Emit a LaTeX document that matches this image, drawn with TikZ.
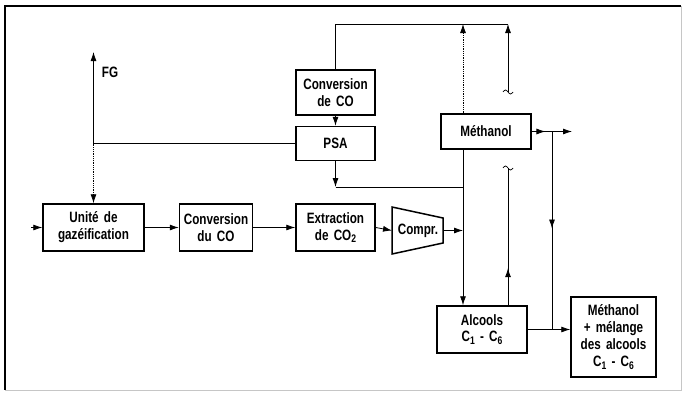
\documentclass[tikz,border=0pt]{standalone}
\usepackage{fontspec}
\setmainfont{Liberation Sans}[FakeStretch=0.78, WordSpace=1.6]
\usetikzlibrary{arrows.meta, positioning, calc, decorations.markings}
\newcommand\lowr[1]{\raisebox{-0.35ex}{\fontsize{11}{11}\selectfont #1}}
\tikzset{
  box/.style   = {draw, line width=1.5pt, align=center, inner sep=0pt,
                  font=\bfseries\fontsize{15}{17}\selectfont},
  lbl/.style   = {inner sep=0pt, font=\bfseries\fontsize{15}{17}\selectfont},
  ln/.style    = {line width=0.8pt},
  fl/.style    = {line width=0.8pt, -{Latex[length=9pt,width=6pt]}},
  midarr/.style = {postaction={decorate}, decoration={markings,
                  mark=at position #1 with {\arrow{Latex[length=9pt,width=6pt]}}}},
  brk/.pic     = {\draw[line width=0.7pt] (-5,0) sin (-2.5,-2) cos (0,0) sin (2.5,2) cos (5,0);},
}

\begin{document}
\begin{tikzpicture}[x=1pt, y=-1pt]
  \useasboundingbox (0,0) rectangle (683,394);
  % frame
  \draw[line width=1.6pt] (681,6) -- (5,6) -- (5,390);
  \draw[gray!45, line width=0.6pt] (681,6) -- (681,390) -- (5,390);

  % main line
  \node[box, minimum width=101pt, minimum height=47pt] (unit) at (93.5,227.5) {Unité de\\gazéification};
  \node[box, minimum width=73pt, minimum height=47pt, right=34pt of unit] (cdu) {Conversion\\du CO};
  \node[box, minimum width=79pt, minimum height=47pt, right=42pt of cdu] (ext) {Extraction\\de CO\lowr{2}};
  \node[lbl] (comp) at (418,230.5) {Compr.};
  \coordinate (cl) at (392,230.5);
  \coordinate (cr) at (443,230.5);
  \draw[line width=1.5pt] (392,207) -- (443,218) -- (443,243) -- (392,254) -- cycle;

  \node[box, minimum width=79pt, minimum height=34pt, above=42pt of ext] (psa) {PSA};
  \node[box, minimum width=79pt, minimum height=45pt, above=10pt of psa] (ccx) {Conversion\\de CO};
  \node[box, minimum width=90pt, minimum height=35pt] (meth) at (486,131.5) {Méthanol};
  \node[box, minimum width=90pt, minimum height=47pt] (alc) at (482,329.5) {Alcools\\C\lowr{1} - C\lowr{6}};
  \node[box, minimum width=85pt, minimum height=80pt] (fin) at (613.5,337) {Méthanol\\+ mélange\\des alcools\\C\lowr{1} - C\lowr{6}};

  % helper points
  \coordinate (feed) at (31,227.5);
  \coordinate (fgtop) at (93.5,52);
  \coordinate (fgj) at (unit.north |- psa.west);
  \node[lbl] (fg) at (110,72) {FG};
  \coordinate (mx) at (463,0);
  \coordinate (ax) at (508,0);
  \coordinate (tr) at (508,24);
  \coordinate (t1) at (508,92);
  \coordinate (t2) at (508,168);
  \coordinate (hj) at (psa.south |- 0,187);
  \coordinate (vj) at (552,131.5);
  \coordinate (mout) at (572,131.5);

  \draw[fl] (feed) -- (unit.west);
  \draw[fl] (unit) -- (cdu);
  \draw[fl] (cdu) -- (ext);
  \draw[fl] (ext.east) -- (cl);
  \draw[fl] (cr) -- (mx |- cr);

  \draw[fl] (fgj) -- (fgtop);
  \draw[ln] (fgj) -- (psa.west);
  \draw[fl, densely dotted] (fgj) -- (unit.north);

  \draw[fl] (ccx) -- (psa);
  \draw[fl] (psa.south) -- (hj);
  \draw[ln] (hj) -- (mx |- hj);
  \draw[fl] (meth.south -| mx) -- (alc.north -| mx);

  \draw[ln] (ccx.north) |- (tr);
  \draw[fl, densely dotted] (meth.north -| mx) -- (mx |- tr);
  \draw[fl] (t1) -- (tr);
  \draw[ln, midarr=0.27] (alc.north -| ax) -- (t2);
  \pic at (t1) {brk};
  \pic at (t2) {brk};

  \draw[fl, midarr=0.34] (meth.east) -- (mout);
  \draw[ln, midarr=0.49] (vj) -- (vj |- alc.east);
  \draw[fl] (alc.east) -- (alc.east -| fin.west);
\end{tikzpicture}
\end{document}
